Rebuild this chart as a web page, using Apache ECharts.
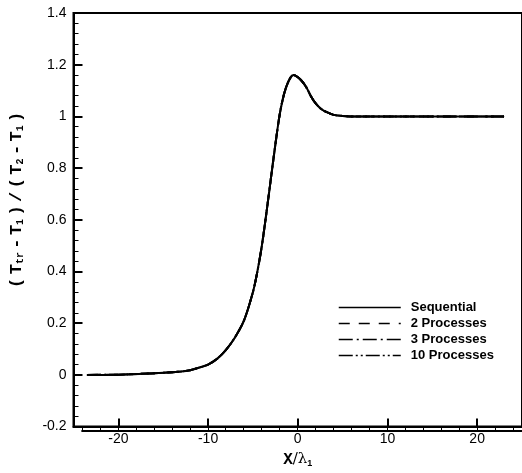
<!DOCTYPE html>
<html>
<head>
<meta charset="utf-8">
<script src="https://cdn.jsdelivr.net/npm/echarts@6/dist/echarts.min.js"></script>
<style>html,body{margin:0;padding:0;background:#fff}#c{width:522px;height:473px}</style>
</head>
<body>
<div id="c"></div>
<script>
// ---- data ----
const xValues = [-23.5, -20, -17.5, -15, -13, -12, -11, -10, -9, -8, -7, -6, -5, -4.5, -4, -3.5, -3, -2.5, -2, -1.5, -1, -0.5, 0, 0.5, 1, 1.5, 2, 2.5, 3, 4, 5, 6, 8, 10, 15, 20, 23];
const sequential = [0, 0.001, 0.004, 0.008, 0.013, 0.018, 0.028, 0.040, 0.062, 0.097, 0.145, 0.21, 0.32, 0.40, 0.50, 0.625, 0.758, 0.89, 1.01, 1.09, 1.138, 1.16, 1.152, 1.135, 1.11, 1.076, 1.05, 1.032, 1.02, 1.006, 1.002, 1.0, 1.0, 1.0, 1.0, 1.0, 1.0];
const proc2 = sequential.slice();
const proc3 = sequential.slice();
const proc10 = sequential.slice();
const seriesNames = ['Sequential', '2 Processes', '3 Processes', '10 Processes'];
const xMin = -25, xMax = 25, xMinorStep = 2, xMinorStart = -24;

const pairs = arr => xValues.map((x, i) => [x, arr[i]]);

const dashes = ['solid', [11, 9], [14, 4, 2, 4], [14, 3, 2, 3, 2, 3]];
const datasets = [sequential, proc2, proc3, proc10];

const series = seriesNames.map((n, i) => ({
  name: n,
  type: 'line',
  xAxisIndex: 0, yAxisIndex: 0,
  data: pairs(datasets[i]),
  showSymbol: false,
  symbol: 'none',
  smooth: 0.3,
  lineStyle: { color: '#000', width: 2, type: dashes[i] },
  itemStyle: { color: '#000' },
  z: 10 - i
}));

const T = '\u2009';
const plotLeft = 73, plotWidth = 455;
const pxPerUnit = plotWidth / (xMax - xMin);
const gridRect = { left: plotLeft, top: 13, width: plotWidth, bottom: 42 };
// second grid for x minor ticks starts at the first minor tick value
const minorRect = { left: plotLeft + (xMinorStart - xMin) * pxPerUnit, top: 13, width: (xMax - xMinorStart) * pxPerUnit, bottom: 42 };
const chart = echarts.init(document.getElementById('c'), null, { renderer: 'canvas' });
chart.setOption({
  animation: false,
  backgroundColor: '#fff',
  grid: [
    Object.assign({ show: true, borderColor: '#000', borderWidth: 2, backgroundColor: 'transparent' }, gridRect),
    Object.assign({ show: false }, minorRect)
  ],
  legend: {
    orient: 'vertical',
    left: 338, top: 301, padding: 0,
    itemWidth: 62, itemHeight: 14, itemGap: 3,
    itemStyle: { color: 'rgba(0,0,0,0)', borderWidth: 0, opacity: 0 },
    lineStyle: { width: 1.5 },
    textStyle: { fontFamily: 'Liberation Sans, Arial, sans-serif', fontWeight: 'bold', fontSize: 13, color: '#000', padding: [0, 0, 0, 5] },
    data: seriesNames
  },
  xAxis: [{
    type: 'value', min: xMin, max: xMax, splitNumber: 5, gridIndex: 0,
    position: 'bottom',
    axisLine: { show: true, onZero: false, lineStyle: { color: '#000', width: 2 } },
    axisTick: { show: true, inside: true, length: 8, lineStyle: { color: '#000', width: 2 } },
    axisLabel: { showMinLabel: false, showMaxLabel: false, margin: 6, fontFamily: 'Liberation Sans, Arial, sans-serif', fontSize: 14, color: '#000' },
    splitLine: { show: false },
    name: '{b|X}{r|/λ}{s|1}',
    nameLocation: 'middle', nameGap: 22,
    nameTextStyle: { rich: {
      b: { fontFamily: 'Liberation Mono, Courier New, monospace', fontWeight: 'bold', fontSize: 16, color: '#000' },
      r: { fontFamily: 'DejaVu Serif, serif', fontSize: 15, color: '#000' },
      s: { fontFamily: 'Liberation Sans, Arial', fontWeight: 'bold', fontSize: 9, color: '#000', verticalAlign: 'bottom', padding: [8, 0, 0, 0] }
    } }
  }, {
    type: 'value', min: xMinorStart, max: xMax, interval: xMinorStep, position: 'bottom', gridIndex: 1,
    axisLine: { show: true, onZero: true, lineStyle: { color: '#000', width: 2 } },
    axisTick: { show: true, inside: true, length: 5, lineStyle: { color: '#000', width: 1 } },
    axisLabel: { show: false },
    splitLine: { show: false }
  }],
  yAxis: [{
    type: 'value', min: -0.2, max: 1.4, interval: 0.2, gridIndex: 0,
    axisLine: { show: true, onZero: false, lineStyle: { color: '#000', width: 2 } },
    axisTick: { show: true, inside: true, length: 9, lineStyle: { color: '#000', width: 2 } },
    minorTick: { show: true, splitNumber: 5, length: 5, lineStyle: { color: '#000', width: 1 } },
    axisLabel: { margin: 7, fontFamily: 'Liberation Sans, Arial, sans-serif', fontSize: 14, color: '#000',
      formatter: v => String(Math.round(v * 10) / 10) },
    splitLine: { show: false },
    minorSplitLine: { show: false },
    name: '{b|(' + T + 'T}{s|tr}{b|' + T + '-' + T + 'T}{s|1}{b|' + T + ')' + T + '/' + T + '(' + T + 'T}{s|2}{b|' + T + '-' + T + 'T}{s|1}{b|' + T + ')}',
    nameLocation: 'middle', nameGap: 48, nameRotate: 90,
    nameTextStyle: { padding: [0, 0, 0, 40], rich: {
      b: { fontFamily: 'Liberation Mono, Courier New, monospace', fontWeight: 'bold', fontSize: 17, color: '#000' },
      s: { fontFamily: 'Liberation Mono, Courier New, monospace', fontWeight: 'bold', fontSize: 10, color: '#000', verticalAlign: 'bottom', padding: [8, 0, 0, 0] }
    } }
  }, {
    type: 'value', gridIndex: 1, min: 0, max: 1, show: false
  }],
  series: series
});
</script>
</body>
</html>
